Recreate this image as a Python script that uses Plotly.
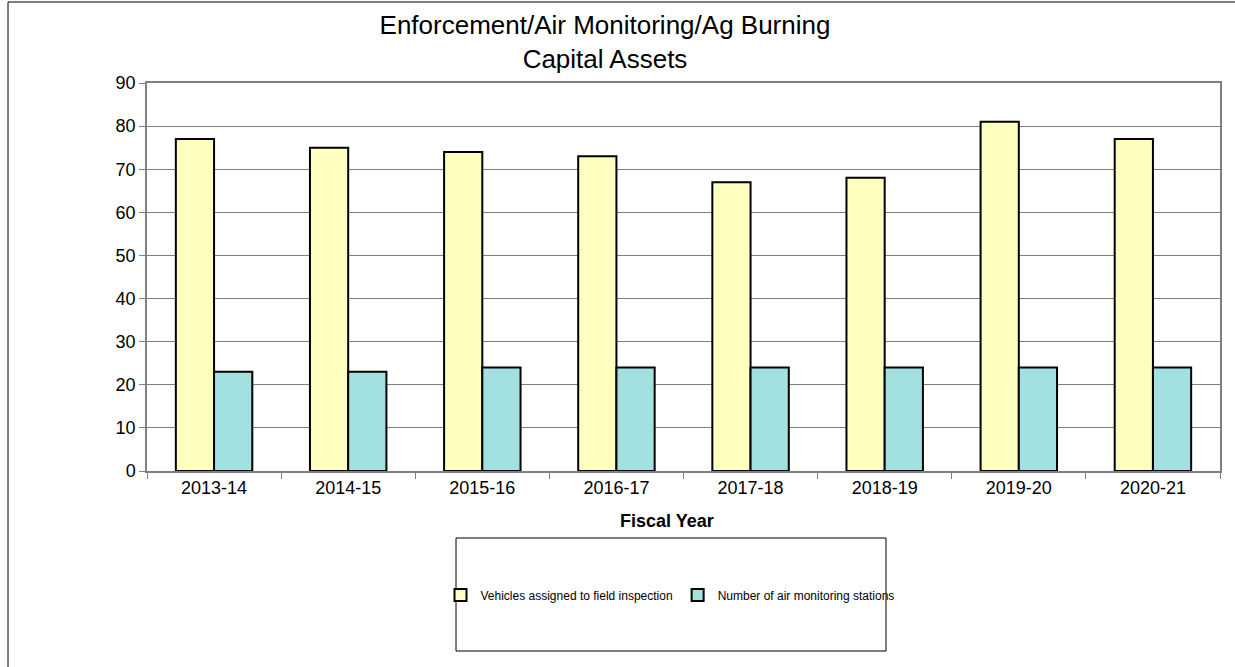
import plotly.graph_objects as go

years = ["2013-14", "2014-15", "2015-16", "2016-17", "2017-18", "2018-19", "2019-20", "2020-21"]
vehicles = [77, 75, 74, 73, 67, 68, 81, 77]
stations = [23, 23, 24, 24, 24, 24, 24, 24]
names = ["Vehicles assigned to field inspection", "Number of air monitoring stations"]
colors = ["#FFFFC0", "#A3E0E0"]

W, H = 1235, 667
L, R, T, B = 147, 1220, 83, 471
pw, ph = R - L, B - T

def px(x):
    return (x - L) / pw

def py(y):
    return (B - y) / ph

fig = go.Figure()
for vals, nm, c in zip([vehicles, stations], names, colors):
    fig.add_trace(go.Bar(x=years, y=vals, name=nm, marker=dict(color=c, line=dict(color="#000000", width=2))))

fig.update_layout(
    width=W, height=H,
    margin=dict(l=L, r=W - R, t=T, b=H - B),
    paper_bgcolor="white", plot_bgcolor="white",
    font=dict(family="Arial, Liberation Sans, sans-serif", color="#000000"),
    barmode="group", bargap=0.43, bargroupgap=0,
    title=dict(text="Enforcement/Air Monitoring/Ag Burning<br>Capital Assets", x=px(605), xref="paper",
               xanchor="center", y=1 - 34 / H, yref="container", yanchor="middle",
               font=dict(size=26, color="#000000")),
    showlegend=True,
    legend=dict(orientation="h", x=px(670), y=py(595), xanchor="center", yanchor="middle",
                font=dict(size=12), bgcolor="rgba(0,0,0,0)", itemwidth=30, traceorder="normal"),
    xaxis=dict(showline=True, linecolor="#808080", linewidth=1.5, mirror=True, ticks="outside",
               tickson="boundaries", ticklen=6, tickcolor="#808080", tickfont=dict(size=18),
               showgrid=False),
    yaxis=dict(range=[0, 90], dtick=10, showline=True, linecolor="#808080", linewidth=1.5, mirror=True,
               ticks="outside", ticklen=6, tickcolor="#808080", tickfont=dict(size=18),
               showgrid=True, gridcolor="#808080", gridwidth=1.2, zeroline=False),
    shapes=[
        dict(type="rect", xref="paper", yref="paper", x0=px(8), x1=px(1260), y0=py(700), y1=py(2),
             line=dict(color="#000000", width=1), fillcolor="rgba(0,0,0,0)", layer="below"),
        dict(type="rect", xref="paper", yref="paper", x0=px(456), x1=px(886), y0=py(651), y1=py(538),
             line=dict(color="#000000", width=1), fillcolor="rgba(0,0,0,0)"),
    ],
    annotations=[
        dict(text="<b>Fiscal Year</b>", xref="paper", yref="paper", x=px(667), y=py(521),
             xanchor="center", yanchor="middle", showarrow=False, font=dict(size=18)),
    ],
)

fig.write_html("out.html", config={"displayModeBar": False},
               post_script="document.body.style.margin='0';")
